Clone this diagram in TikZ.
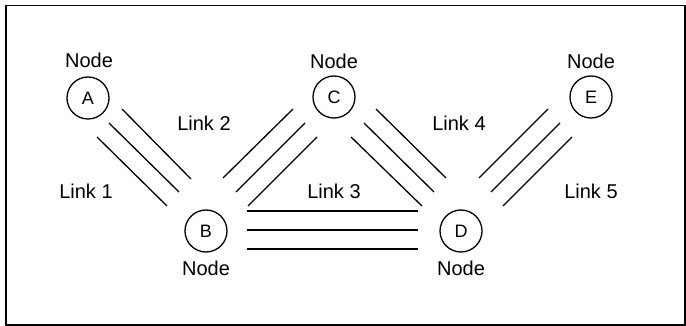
\documentclass[tikz,border=0pt]{standalone}
\usepackage{fontspec}
\setmainfont{Liberation Sans}
\begin{document}
\begin{tikzpicture}[x=1pt,y=-1pt,
  netnode/.style={draw,circle,line width=1.3pt,minimum size=42pt,inner sep=0pt,font=\fontsize{18}{20}\selectfont},
  lbl/.style={font=\fontsize{20}{22}\selectfont,inner sep=0pt},
  wire/.style={line width=1.3pt}]
\useasboundingbox (0,0) rectangle (686,326);
\node[draw,line width=1.5pt,minimum width=679pt,minimum height=319pt,inner sep=0pt,anchor=north west] (frame) at (5,5) {};
% nodes
\node[netnode] (A) at (88,98) {A};
\node[netnode] (B) at (206,231) {B};
\node[netnode] (C) at (334,97) {C};
\node[netnode] (D) at (461,231) {D};
\node[netnode] (E) at (591,97) {E};
\node[lbl] (nA) at (89,60) {Node};
\node[lbl] (nB) at (206,268) {Node};
\node[lbl] (nC) at (334,61) {Node};
\node[lbl] (nD) at (461,268) {Node};
\node[lbl] (nE) at (591,61) {Node};
% link labels
\node[lbl] (l1) at (86,191) {Link 1};
\node[lbl] (l2) at (204,123) {Link 2};
\node[lbl] (l3) at (334,191) {Link 3};
\node[lbl] (l4) at (459,123) {Link 4};
\node[lbl] (l5) at (591,191) {Link 5};
% link endpoints
\coordinate (ab1s) at (97,137);  \coordinate (ab1e) at (167,206);
\coordinate (ab2s) at (109,123); \coordinate (ab2e) at (179,192);
\coordinate (ab3s) at (122,109); \coordinate (ab3e) at (191,179);
\coordinate (bc1s) at (223,178); \coordinate (bc1e) at (293,109);
\coordinate (bc2s) at (236,192); \coordinate (bc2e) at (305,123);
\coordinate (bc3s) at (248,206); \coordinate (bc3e) at (317,137);
\coordinate (bd1s) at (247,211); \coordinate (bd1e) at (418,211);
\coordinate (bd2s) at (247,230); \coordinate (bd2e) at (418,230);
\coordinate (bd3s) at (247,249); \coordinate (bd3e) at (418,249);
\coordinate (cd1s) at (376,109); \coordinate (cd1e) at (446,178);
\coordinate (cd2s) at (364,123); \coordinate (cd2e) at (434,192);
\coordinate (cd3s) at (351,137); \coordinate (cd3e) at (422,206);
\coordinate (de1s) at (479,178); \coordinate (de1e) at (548,109);
\coordinate (de2s) at (491,192); \coordinate (de2e) at (560,123);
\coordinate (de3s) at (503,206); \coordinate (de3e) at (572,137);
\foreach \p in {ab,bc,bd,cd,de}{
  \foreach \i in {1,2,3}{
    \draw[wire] (\p\i s) -- (\p\i e);
  }
}
\end{tikzpicture}
\end{document}
